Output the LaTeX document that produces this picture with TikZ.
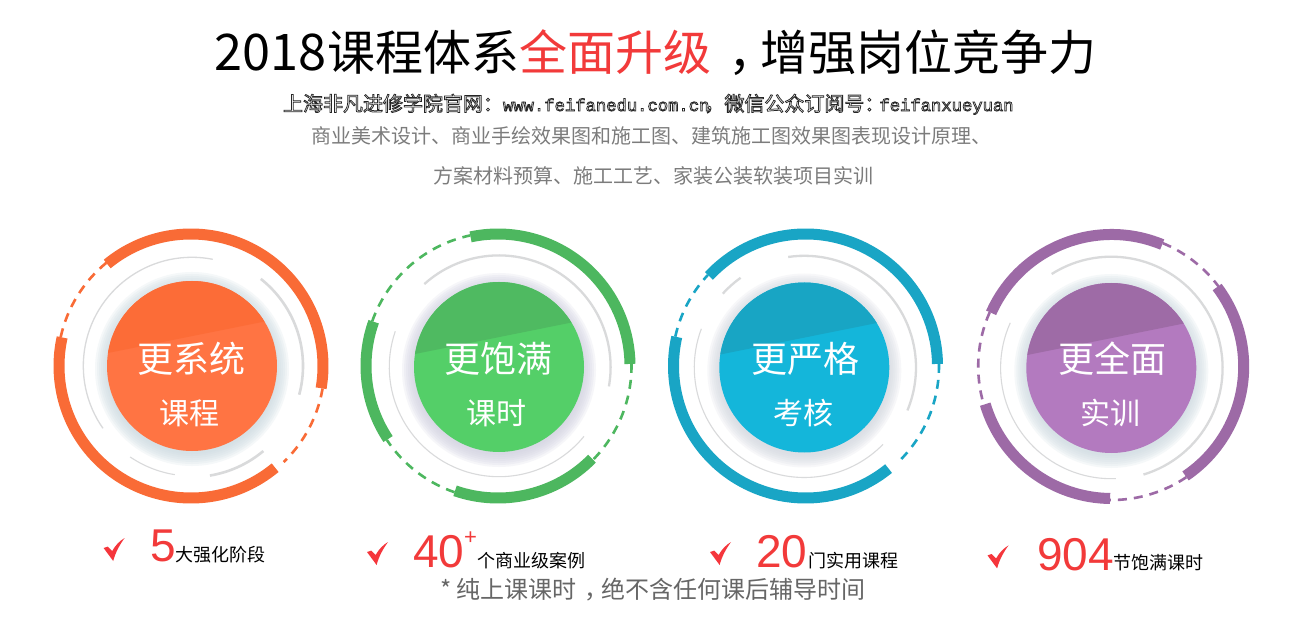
\documentclass[tikz,border=0pt]{standalone}
\usepackage{fontspec}
\setmainfont{Noto Sans CJK SC}
\newfontfamily\arialf{Liberation Sans}
\newfontfamily\monof{Liberation Mono}
\definecolor{redtxt}{HTML}{F23A3A}
\definecolor{redchk}{HTML}{F5363C}
\definecolor{grayarc}{HTML}{D9DADB}
\definecolor{subgray}{HTML}{7C7C7C}
\definecolor{notegray}{HTML}{666666}
\definecolor{ringA}{HTML}{F96B36}\definecolor{topA}{HTML}{FC6C37}\definecolor{lowA}{HTML}{FF7443}\definecolor{haloA}{HTML}{CBD9E0}
\definecolor{ringB}{HTML}{4DB75F}\definecolor{topB}{HTML}{4FBA61}\definecolor{lowB}{HTML}{54CF68}\definecolor{haloB}{HTML}{CFCFDF}
\definecolor{ringC}{HTML}{19A5C5}\definecolor{topC}{HTML}{18A5C4}\definecolor{lowC}{HTML}{14B6DA}\definecolor{haloC}{HTML}{D3D6DE}
\definecolor{ringD}{HTML}{9D6AA6}\definecolor{topD}{HTML}{9E6BA6}\definecolor{lowD}{HTML}{B37ABF}\definecolor{haloD}{HTML}{CDD9E0}
\newcommand{\fsz}[1]{\fontsize{#1}{#1}\selectfont}
% thick{colour}{centre}{start}{end}
\newcommand{\thickarc}[4]{\draw[thickring,#1,shift={(#2)}] (#3:132) arc[start angle=#3,end angle=#4,radius=132];}
\newcommand{\dasharc}[4]{\draw[dashring,#1,shift={(#2)}] (#3:133.5) arc[start angle=#3,end angle=#4,radius=133.5];}
% grayarc{width}{centre}{radius}{start}{end}
\newcommand{\grarc}[5]{\draw[grayarc,line width=#1,shift={(#2)}] (#4:#3) arc[start angle=#4,end angle=#5,radius=#3];}
\newcommand{\halo}[2]{\foreach \hr in {97,95,...,85}{\fill[#1,opacity=.18] ([yshift=-3]#2) circle[radius=\hr];}}
\newcommand{\disc}[3]{\fill[#3] (#1) circle[radius=85];
  \begin{scope}\clip (#1) circle[radius=85];
  \fill[#2,shift={(#1)}] (-90,11.8) -- (90,48) -- (90,90) -- (-90,90) -- cycle;\end{scope}}
\newcommand{\chk}[2]{\fill[redchk,shift={(#1,#2)}] (0,-10) -- (4.2,-8.6) -- (8.6,-13) .. controls (12,-7) and (16,-3) .. (21,0) .. controls (16,-7) and (12,-14) .. (9.6,-23) -- cycle;}
\begin{document}
\begin{tikzpicture}[x=1pt,y=1pt,
  thickring/.style={line width=11pt,line cap=butt},
  dashring/.style={line width=2.6pt,dash pattern=on 9pt off 7pt},
  lbl/.style={anchor=base,inner sep=0pt,outer sep=0pt},
  lblw/.style={anchor=base west,inner sep=0pt,outer sep=0pt},
  big/.style={lbl,text=white,font=\fsz{36}},
  small/.style={lbl,text=white,font=\fsz{30}},
  num/.style={lblw,text=redtxt,font=\arialf\fsz{46}},
  unit/.style={lblw,text=black,font=\fsz{18}}]
\fill[white] (0,0) rectangle (1306,619);
\useasboundingbox (0,0) rectangle (1306,619);

\coordinate (rA) at (191,253); \coordinate (dA) at (192,253);
\coordinate (rB) at (498,253); \coordinate (dB) at (499,252);
\coordinate (rC) at (805.5,253); \coordinate (dC) at (804.3,251.5);
\coordinate (rD) at (1111.7,252.5); \coordinate (dD) at (1111.3,251);

% circle A
\halo{haloA}{dA}\disc{dA}{topA}{lowA}
\thickarc{ringA}{rA}{129.4}{-9.7}
\thickarc{ringA}{rA}{-50.4}{-192.5}
\dasharc{ringA}{rA}{-9.7}{-46}
\dasharc{ringA}{rA}{167.5}{129.4}
\grarc{1.3pt}{dA}{108.7}{79}{215}
\grarc{2.6pt}{dA}{111}{51.7}{-15}
\grarc{2.6pt}{dA}{111}{-50}{-80.7}
\grarc{1.1pt}{dA}{110}{235.8}{261}

% circle B
\halo{haloB}{dB}\disc{dB}{topB}{lowB}
\thickarc{ringB}{rB}{102}{0.9}
\thickarc{ringB}{rB}{-44.6}{-109}
\thickarc{ringB}{rB}{213.6}{160.4}
\dasharc{ringB}{rB}{0.9}{-44.6}
\dasharc{ringB}{rB}{-109}{-146.4}
\dasharc{ringB}{rB}{160.4}{102}
\grarc{2.3pt}{dB}{111.6}{132}{-10}
\grarc{1.1pt}{dB}{109.7}{161}{320.8}

% circle C
\halo{haloC}{dC}\disc{dC}{topC}{lowC}
\thickarc{ringC}{rC}{137}{0.9}
\thickarc{ringC}{rC}{-51}{-192.7}
\dasharc{ringC}{rC}{0.9}{-45}
\dasharc{ringC}{rC}{167.3}{137}
\grarc{2.3pt}{dC}{111.7}{98.3}{-22.6}
\grarc{2.3pt}{dC}{110}{137.8}{125.4}
\grarc{1.1pt}{dC}{110}{159.4}{315.7}

% circle D
\halo{haloD}{dD}\disc{dD}{topD}{lowD}
\thickarc{ringD}{rD}{67.5}{156}
\thickarc{ringD}{rD}{37}{-56}
\thickarc{ringD}{rD}{-90.7}{-163.4}
\dasharc{ringD}{rD}{67.5}{37}
\dasharc{ringD}{rD}{-56}{-90.7}
\dasharc{ringD}{rD}{156}{196.6}
\grarc{2.3pt}{dD}{111.3}{122.4}{-73.2}
\grarc{1.1pt}{dD}{110.7}{155.9}{272.4}

% disc labels
\node[big] (bA) at (191,246.5) {更系统};
\node[small] (sA) at (189,194.5) {课程};
\node[big] (bB) at (498,246.5) {更饱满};
\node[small] (sB) at (496,194.5) {课时};
\node[big] (bC) at (805,246.5) {更严格};
\node[small] (sC) at (803,194.5) {考核};
\node[big] (bD) at (1112,246.5) {更全面};
\node[small] (sD) at (1110,194.5) {实训};

% heading
\node[lblw,font=\fsz{48}] (title) at (214,548)
  {{\fsz{50.5}2018}\kern1pt 课程体系\textcolor{redtxt}{全面升级}\kern17pt ，\kern-16pt 增强岗位竞争力};
\node[lblw,font=\fsz{20}] (site) at (283,508)
  {\special{pdf:code q 2 Tr 0.75 w 0.15 G 1 g}上海非凡进修学院官网：{\monof\fsz{17.2}www.feifanedu.com.cn}\kern-5pt ，微信公众订阅号：\kern-5pt{\monof\fsz{17.2}feifanxueyuan}\special{pdf:code Q}};
\node[lbl,text=subgray,font=\fsz{20}] (l1) at (651,475.5) {商业美术设计、商业手绘效果图和施工图、建筑施工图效果图表现设计原理、};
\node[lbl,text=subgray,font=\fsz{20}] (l2) at (653,435.5) {方案材料预算、施工工艺、家装公装软装项目实训};

% bottom row
\chk{103.6}{81}
\node[num] (n1) at (150,58) {5};
\node[unit] (u1) at (175,58) {大强化阶段};
\chk{367}{77}
\node[num] (n2) at (413,52) {40};
\node[lblw,text=redtxt,font=\arialf\fsz{22}] (n2p) at (464,75) {+};
\node[unit] (u2) at (477,52) {个商业级案例};
\chk{710}{77}
\node[num] (n3) at (756,52) {20};
\node[unit] (u3) at (808,52) {门实用课程};
\chk{987.5}{73.6}
\node[num] (n4) at (1037,49) {904};
\node[unit] (u4) at (1113,49.5) {节饱满课时};
\node[lbl,text=notegray,font=\fsz{24}] (note) at (653,21) {* 纯上课课时\kern8pt ，\kern-7pt 绝不含任何课后辅导时间};
\end{tikzpicture}
\end{document}
